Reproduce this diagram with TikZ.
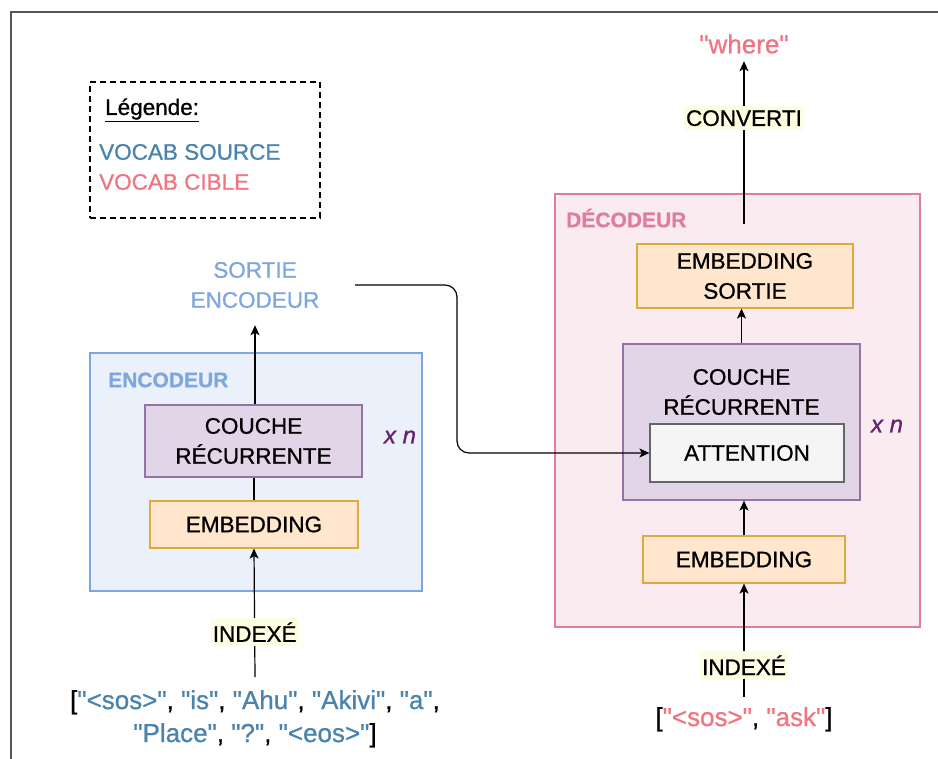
\documentclass[tikz,border=0pt]{standalone}
\usepackage{fontspec}
\setmainfont{Liberation Sans}[Ligatures=TeXOff, RawFeature={embolden=0.8}]
\usetikzlibrary{arrows.meta,positioning}

\definecolor{encfill}{HTML}{EBF1FB}
\definecolor{encline}{HTML}{7EA6E0}
\definecolor{decfill}{HTML}{F9EBF0}
\definecolor{decline}{HTML}{E07D9B}
\definecolor{rnnfill}{HTML}{E1D5E7}
\definecolor{rnnline}{HTML}{9673A6}
\definecolor{embfill}{HTML}{FFE6CC}
\definecolor{embline}{HTML}{DEAA3C}
\definecolor{attfill}{HTML}{F5F5F5}
\definecolor{attline}{HTML}{666666}
\definecolor{srcblue}{HTML}{4A83AD}
\definecolor{tgtpink}{HTML}{EF7680}
\definecolor{reppurple}{HTML}{66206E}
\definecolor{lblbg}{HTML}{FDFDE2}
\definecolor{framegray}{HTML}{555555}

\newcommand{\mainsize}{\fontsize{22.5}{30}\selectfont}
\newcommand{\seqsize}{\fontsize{26}{33}\selectfont}
\newcommand{\src}[1]{\textcolor{srcblue}{"#1"}}
\newcommand{\tgt}[1]{\textcolor{tgtpink}{"#1"}}

\tikzset{
  every node/.style={font=\mainsize, inner sep=0pt, align=center},
  block/.style={draw, line width=1.2pt},
  encblock/.style={block, draw=encline, fill=encfill},
  decblock/.style={block, draw=decline, fill=decfill},
  rnnblock/.style={block, draw=rnnline, fill=rnnfill},
  embblock/.style={block, draw=embline, fill=embfill},
  attblock/.style={block, draw=attline, fill=attfill},
  flow/.style={line width=1.2pt, -{Stealth[length=10pt,width=9pt,inset=2.5pt]}},
  plain/.style={line width=1.2pt},
  steplabel/.style={fill=lblbg, inner xsep=2pt, inner ysep=4pt, text=black},
  repeat/.style={text=reppurple, font=\fontsize{24}{28}\selectfont\itshape},
  boxtitle/.style={anchor=west, font=\fontsize{21}{24}\selectfont\bfseries},
}

\begin{document}
\begin{tikzpicture}[x=1pt,y=-1pt]
  % canvas
  \fill[white] (0,0) rectangle (938,759);
  \useasboundingbox (0,0) rectangle (938,759);
  \draw[framegray, line width=1.4pt] (11,759) -- (11,12) -- (938,12);

  % legend
  \node[draw, dash pattern=on 6pt off 4pt, line width=1.2pt, minimum width=230pt, minimum height=136pt] (legend) at (205,150) {};
  \node[anchor=west] (legtitle) at (105,110) {\underline{Légende:}};
  \node[anchor=west, text=srcblue] (legsrc) at (99,152) {VOCAB SOURCE};
  \node[anchor=west, text=tgtpink] (legtgt) at (99,182) {VOCAB CIBLE};

  % encoder
  \node[encblock, minimum width=332pt, minimum height=238pt] (enc) at (256,472) {};
  \node[boxtitle, text=encline] (enclbl) at (108,380) {ENCODEUR};
  \node[rnnblock, minimum width=217pt, minimum height=72pt] (encrnn) at (253.5,441) {COUCHE\\RÉCURRENTE};
  \node[repeat] (encrep) at (400,437) {x n};
  \node[embblock, minimum width=208pt, minimum height=47pt] (encemb) at (254,524.5) {EMBEDDING};
  \node[text=encline, minimum width=200pt, minimum height=80pt] (encout) at (255,285) {SORTIE\\ENCODEUR};
  \node[anchor=north, inner ysep=13pt, font=\seqsize] (srcseq) at (255,677)
    {[\src{<sos>}, \src{is}, \src{Ahu}, \src{Akivi}, \src{a},\\\src{Place}, \src{?}, \src{<eos>}]};

  % decoder
  \node[decblock, minimum width=365pt, minimum height=433pt] (dec) at (737.5,410.5) {};
  \node[boxtitle, text=decline] (declbl) at (566,218) {DÉCODEUR};
  \node[embblock, minimum width=216pt, minimum height=64pt] (decout) at (745,276) {EMBEDDING\\SORTIE};
  \node[rnnblock, minimum width=237pt, minimum height=156pt] (decrnn) at (741.5,422) {};
  \node (decrnntxt) at (741.5,392) {COUCHE\\RÉCURRENTE};
  \node[attblock, minimum width=194pt, minimum height=58pt] (att) at (747,453) {ATTENTION};
  \node[repeat] (decrep) at (887,426) {x n};
  \node[embblock, minimum width=202pt, minimum height=47pt] (decemb) at (744,559.5) {EMBEDDING};
  \node[anchor=north, inner ysep=10pt, font=\seqsize] (tgtseq) at (744,697) {[\tgt{<sos>}, \tgt{ask}]};
  \node[text=tgtpink, font=\seqsize, minimum height=34pt] (word) at (744,44) {"where"};
  \coordinate (decexit) at (744,224);

  % encoder flow
  \draw[flow] (srcseq.north) -- node[steplabel, pos=0.35] (encidx) {INDEXÉ} (encemb.south);
  \draw[plain] (encemb.north) -- (encemb.north |- encrnn.south);
  \draw[flow] (encrnn.north -| encout.south) -- (encout.south);
  \draw[flow, rounded corners=12pt] (encout.east) -- (457,285) |- (att.west);

  % decoder flow
  \draw[flow] (tgtseq.north) -- node[steplabel, pos=0.28] (decidx) {INDEXÉ} (decemb.south);
  \draw[flow] (decemb.north) -- (decemb.north |- decrnn.south);
  \draw[flow] (decrnn.north) -- (decrnn.north |- decout.south);
  \draw[flow] (decexit) -- node[steplabel, pos=0.65] (conv) {CONVERTI} (word.south);
\end{tikzpicture}
\end{document}
